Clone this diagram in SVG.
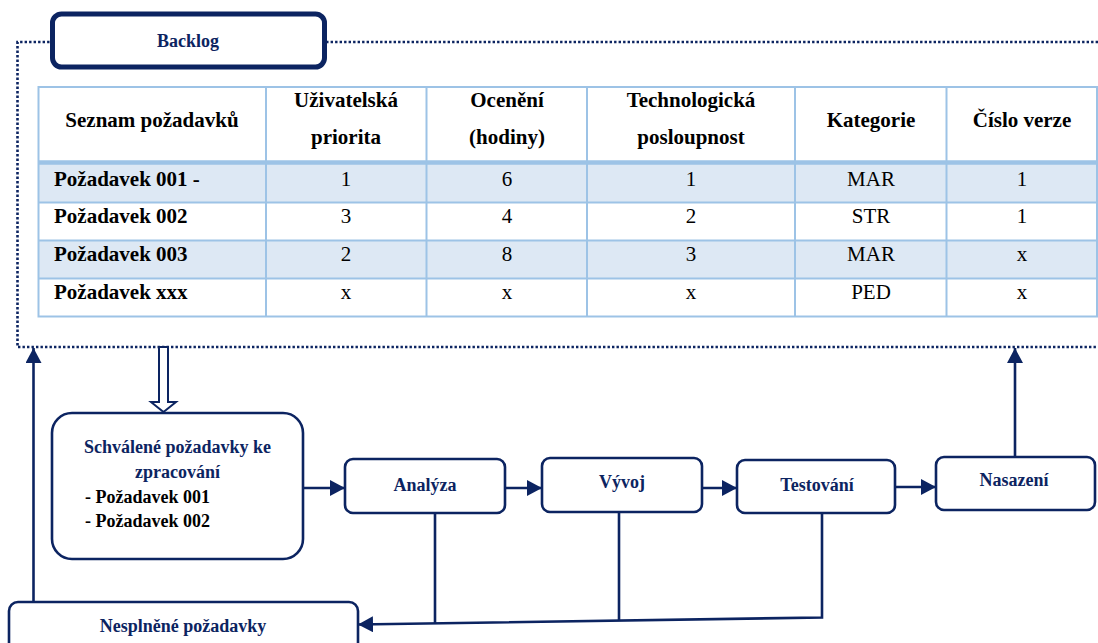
<svg xmlns="http://www.w3.org/2000/svg" width="1098" height="643" viewBox="0 0 1098 643">
  <style>
    text { font-family: "Liberation Serif", "DejaVu Serif", serif; }
    .navy-box { fill: #ffffff; stroke: #0c2461; stroke-width: 2.6; }
    .label { font-weight: bold; font-size: 18px; fill: #0c2461; text-anchor: middle; }
    .item { font-weight: bold; font-size: 18px; fill: #000000; }
    .th { font-weight: bold; font-size: 21px; fill: #000000; text-anchor: middle; }
    .rh { font-weight: bold; font-size: 21px; fill: #000000; }
    .td { font-size: 21px; fill: #000000; text-anchor: middle; }
    .grid { stroke: #9dc3e6; stroke-width: 2; fill: none; }
    .shade { fill: #dde8f4; }
    .conn { fill: none; stroke: #0c2461; stroke-width: 2.6; }
    .frame { fill: none; stroke: #0c2461; stroke-width: 2.6; stroke-dasharray: 2.4 2.1; }
  </style>
  <defs>
    <marker id="head" markerUnits="userSpaceOnUse" markerWidth="16" markerHeight="16" refX="15" refY="8" orient="auto">
      <path d="M0,0 L15,8 L0,16 z" fill="#0c2461"/>
    </marker>
  </defs>

  <rect width="1098" height="643" fill="#ffffff"/>

  <!-- Backlog: dotted frame, title tab and requirements table -->
  <g id="backlog">
    <path class="frame" d="M1098,42 H17.5 V347 H1098"/>
    <rect x="52.5" y="14" width="272" height="53" rx="9" fill="#ffffff" stroke="#0c2461" stroke-width="5"/>
    <text class="label" x="188" y="47" font-family="Liberation Serif">Backlog</text>

    <g id="table">
      <rect x="38.5" y="87" width="1058.5" height="75" fill="#ffffff"/>
      <rect class="shade" x="38.5" y="162" width="1058.5" height="40.5"/>
      <rect x="38.5" y="202.5" width="1058.5" height="38" fill="#ffffff"/>
      <rect class="shade" x="38.5" y="240.5" width="1058.5" height="38"/>
      <rect x="38.5" y="278.5" width="1058.5" height="38" fill="#ffffff"/>

      <rect class="grid" x="38.5" y="87" width="1058.5" height="229.5"/>
      <path class="grid" d="M266,87 V316.5 M426.5,87 V316.5 M587,87 V316.5 M795,87 V316.5 M946.5,87 V316.5"/>
      <path class="grid" d="M38.5,202.5 H1097 M38.5,240.5 H1097 M38.5,278.5 H1097"/>
      <path d="M38.5,162.5 H1097" stroke="#9dc3e6" stroke-width="4.5"/>

      <text class="th" x="152" y="127">Seznam požadavků</text>
      <text class="th" x="346" y="107">Uživatelská</text>
      <text class="th" x="346" y="144">priorita</text>
      <text class="th" x="507" y="107">Ocenění</text>
      <text class="th" x="507" y="144">(hodiny)</text>
      <text class="th" x="691" y="107">Technologická</text>
      <text class="th" x="691" y="144">posloupnost</text>
      <text class="th" x="871" y="127">Kategorie</text>
      <text class="th" x="1022" y="127">Číslo verze</text>

      <text class="rh" x="54" y="186">Požadavek 001 -</text>
      <text class="td" x="346" y="186">1</text>
      <text class="td" x="507" y="186">6</text>
      <text class="td" x="691" y="186">1</text>
      <text class="td" x="871" y="186">MAR</text>
      <text class="td" x="1022" y="186">1</text>

      <text class="rh" x="54" y="223">Požadavek 002</text>
      <text class="td" x="346" y="223">3</text>
      <text class="td" x="507" y="223">4</text>
      <text class="td" x="691" y="223">2</text>
      <text class="td" x="871" y="223">STR</text>
      <text class="td" x="1022" y="223">1</text>

      <text class="rh" x="54" y="261">Požadavek 003</text>
      <text class="td" x="346" y="261">2</text>
      <text class="td" x="507" y="261">8</text>
      <text class="td" x="691" y="261">3</text>
      <text class="td" x="871" y="261">MAR</text>
      <text class="td" x="1022" y="261">x</text>

      <text class="rh" x="54" y="299">Požadavek xxx</text>
      <text class="td" x="346" y="299">x</text>
      <text class="td" x="507" y="299">x</text>
      <text class="td" x="691" y="299">x</text>
      <text class="td" x="871" y="299">PED</text>
      <text class="td" x="1022" y="299">x</text>
    </g>
  </g>

  <g id="schvalene">
    <rect class="navy-box" x="52" y="413" width="251" height="146" rx="20"/>
    <text class="label" x="177.5" y="453">Schválené požadavky ke</text>
    <text class="label" x="177.5" y="478">zpracování</text>
    <text class="item" x="85" y="503">- Požadavek 001</text>
    <text class="item" x="85" y="527">- Požadavek 002</text>
  </g>

  <g id="analyza">
    <rect class="navy-box" x="345" y="459" width="160" height="54" rx="8"/>
    <text class="label" x="425" y="491">Analýza</text>
  </g>

  <g id="vyvoj">
    <rect class="navy-box" x="542" y="458" width="160" height="54" rx="8"/>
    <text class="label" x="622" y="488">Vývoj</text>
  </g>

  <g id="testovani">
    <rect class="navy-box" x="737" y="460" width="158" height="53" rx="8"/>
    <text class="label" x="817" y="491">Testování</text>
  </g>

  <g id="nasazeni">
    <rect class="navy-box" x="936" y="457" width="159" height="53" rx="8"/>
    <text class="label" x="1014" y="486">Nasazení</text>
  </g>

  <g id="nesplnene">
    <rect class="navy-box" x="9" y="602" width="349" height="60" rx="9"/>
    <text class="label" x="183" y="632">Nesplněné požadavky</text>
  </g>

  <g id="connectors">
    <!-- hollow arrow: backlog selection feeds the approved list -->
    <polygon points="159,347 168,347 168,402 176,402 163.5,412 151,402 159,402" fill="#ffffff" stroke="#0c2461" stroke-width="2"/>
    <path class="conn" d="M303,488 H345" marker-end="url(#head)"/>
    <path class="conn" d="M505,488 H542" marker-end="url(#head)"/>
    <path class="conn" d="M702,488 H737" marker-end="url(#head)"/>
    <path class="conn" d="M895,487 H936" marker-end="url(#head)"/>
    <path class="conn" d="M1015,457 V348" marker-end="url(#head)"/>
    <path class="conn" d="M33.5,602 V348" marker-end="url(#head)"/>
    <!-- rejected work returns from each stage -->
    <path class="conn" d="M822,513 V617.5 L358,624.5" marker-end="url(#head)"/>
    <path class="conn" d="M435,513 V623.3"/>
    <path class="conn" d="M619,512 V620.6"/>
  </g>
</svg>
